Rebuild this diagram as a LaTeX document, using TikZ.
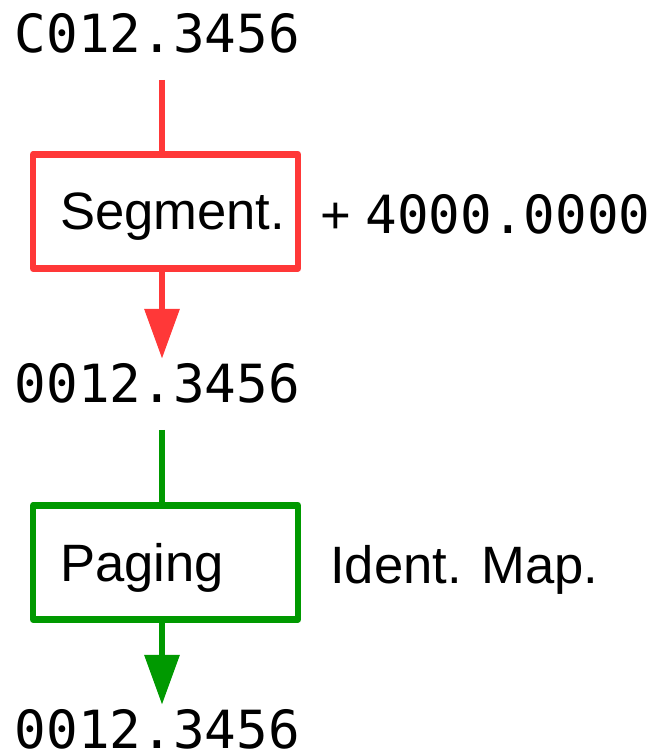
\documentclass[tikz,border=0pt]{standalone}
\usepackage{fontspec}
\setsansfont{Liberation Sans}
\setmonofont{DejaVu Sans Mono}
\usetikzlibrary{arrows.meta}
\definecolor{segred}{HTML}{FF3838}
\definecolor{pagegreen}{HTML}{009900}

\begin{document}
\begin{tikzpicture}[
 x=1pt, y=-1pt,
 font=\sffamily\fontsize{52.6pt}{60pt}\selectfont,
 addr/.style={font=\ttfamily\fontsize{52.6pt}{60pt}\selectfont,anchor=base,inner sep=2pt},
 stage/.style={draw,line width=6.5pt,line join=round,minimum width=265pt,minimum height=114pt,
   text width=211pt,inner xsep=27pt,inner ysep=0pt,text depth=0pt,align=left},
 feed/.style={line width=6.5pt,shorten <=25pt},
 pass/.style={line width=6.5pt,-{Triangle[width=34pt,length=50pt]},shorten >=2pt},
 side/.style={anchor=base west,inner sep=0pt},
]
\useasboundingbox (0,0) rectangle (654,753);
\coordinate (spine) at (162,0);

% Addresses
\node[addr] (logical) at (157.5,52) {C012.3456};
\node[addr] (linear) at (157.5,402) {0012.3456};
\node[addr] (physical) at (157.5,748) {0012.3456};

% Segmentation
\node[stage,draw=segred] (seg) at (165.5,211.5) {Segment.};
\node[side] (segoff) at (320,233) {+ {\ttfamily 4000.0000}};
\draw[feed,segred] (logical.south -| spine) -- (seg.north -| spine);
\draw[pass,segred] (seg.south -| spine) -- (linear.north -| spine);

% Paging
\node[stage,draw=pagegreen] (pg) at (165.5,562.5) {Paging};
\node[side] (pgmap) at (330,583) {Ident. Map.};
\draw[feed,pagegreen] (linear.south -| spine) -- (pg.north -| spine);
\draw[pass,pagegreen] (pg.south -| spine) -- (physical.north -| spine);

\end{tikzpicture}
\end{document}
